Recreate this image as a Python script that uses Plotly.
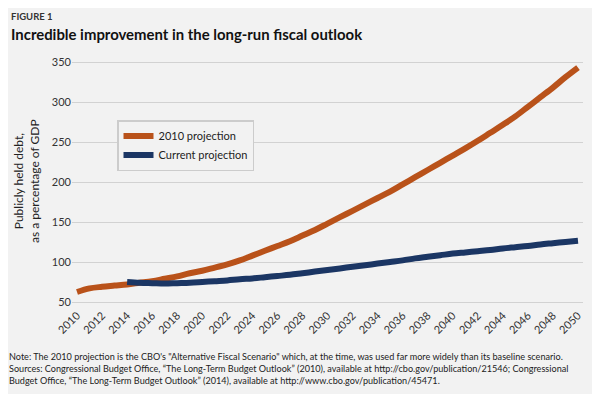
import plotly.graph_objects as go

years_2010 = list(range(2010, 2051))
proj_2010 = [62.5, 67, 69, 70.5, 72, 74, 76, 79, 82, 86, 89, 93, 97, 102, 108, 114, 120, 126,
             133, 140, 148, 156, 164, 172, 180, 188, 197, 206, 215, 224, 233, 242, 251.5, 261.5,
             271.5, 282, 294, 306, 318, 331, 343]
years_cur = list(range(2014, 2051))
proj_cur = [75, 74, 73.5, 73, 73.5, 74, 75, 76, 77, 78.5, 79.5, 81, 82.5, 84, 86, 88, 90, 92,
            94, 96, 98, 100, 102, 104.5, 106.5, 108.5, 110.5, 112, 113.5, 115, 117, 118.5,
            120, 122, 123.5, 125, 126.5]
x_ticks = list(range(2010, 2051, 2))
y_ticks = [50, 100, 150, 200, 250, 300, 350]

BG = "#f2f2f2"
FONT = "Lato"
PH = 248  # plot height in px
PW = 511
OFF = 8   # page body margin compensation

fig = go.Figure()
fig.add_trace(go.Scatter(x=years_2010, y=proj_2010, mode="lines", name="2010 projection",
                         line=dict(color="#b9521a", width=6, shape="spline")))
fig.add_trace(go.Scatter(x=years_cur, y=proj_cur, mode="lines", name="Current projection",
                         line=dict(color="#1b3664", width=6, shape="spline")))

fig.update_layout(
    width=600, height=394,
    paper_bgcolor=BG, plot_bgcolor=BG,
    margin=dict(l=72 - OFF, r=17 + OFF, t=58 - OFF, b=88 + OFF, autoexpand=False),
    font=dict(family=FONT, color="#333333", size=11),
    showlegend=True,
    legend=dict(x=45/PW, y=(306-120)/PH, xanchor="left", yanchor="top",
                bgcolor=BG, bordercolor="#cccccc", borderwidth=1.5,
                font=dict(size=11, color="#222222"), itemwidth=30,
                tracegroupgap=0),
    xaxis=dict(range=[2009.6, 2050.4], tickvals=x_ticks, ticktext=[str(v) for v in x_ticks],
               tickangle=-45, showgrid=False, zeroline=False, showline=False, automargin=False,
               ticks="", tickfont=dict(size=11, color="#333333")),
    yaxis=dict(range=[45, 355], tickvals=y_ticks, showgrid=True, gridcolor="#d2d2d2",
               gridwidth=1, zeroline=False, showline=False, ticks="", automargin=False,
               tickfont=dict(size=11, color="#333333")),
    annotations=[
        dict(text="<b>FIGURE 1</b>", xref="paper", yref="paper", x=-63/PW, y=1 + (58-9)/PH,
             xanchor="left", yanchor="top", showarrow=False, font=dict(size=9.5, color="#333333")),
        dict(text="<b>Incredible improvement in the long-run fiscal outlook</b>", xref="paper",
             yref="paper", x=-63/PW, y=1 + (58-23)/PH, xanchor="left", yanchor="top",
             showarrow=False, font=dict(size=14.9, color="#111111")),
        dict(text="Publicly held debt,<br>as a percentage of GDP", xref="paper", yref="paper",
             x=-46/PW, y=(306-181)/PH, xanchor="center", yanchor="middle", textangle=-90,
             showarrow=False, font=dict(size=12, color="#222222")),
        dict(text=("Note: The 2010 projection is the CBO's \"Alternative Fiscal Scenario\" which, at the time, was used far more widely than its baseline scenario.<br>"
                   "Sources: Congressional Budget Office, \u201cThe Long-Term Budget Outlook\u201d (2010), available at http://cbo.gov/publication/21546; Congressional<br>"
                   "Budget Office, \u201cThe Long-Term Budget Outlook\u201d (2014), available at http://www.cbo.gov/publication/45471."),
             xref="paper", yref="paper", x=-65/PW, y=-(349-306)/PH, xanchor="left", yanchor="top",
             align="left", showarrow=False, font=dict(size=9.1, color="#222222")),
    ],
)

fig.write_html("out.html")
